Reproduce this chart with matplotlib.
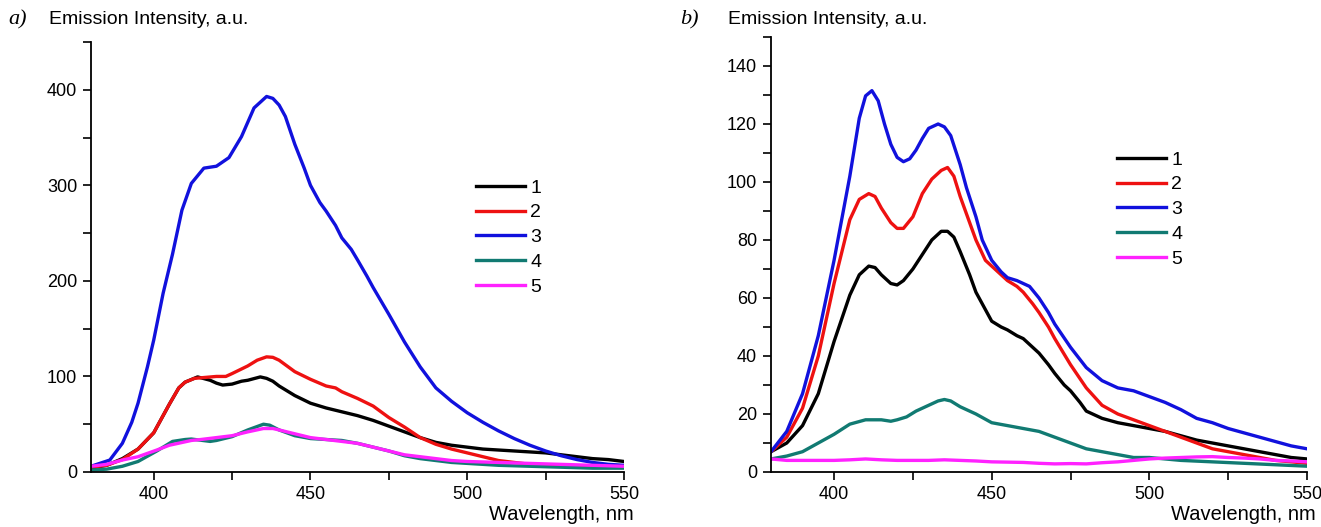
import numpy as np
import matplotlib.pyplot as plt
from matplotlib.ticker import MultipleLocator

plt.rcParams['font.family'] = ['Liberation Sans', 'DejaVu Sans']

# ---- panel a data ----
wl_a1 = [380, 385, 390, 395, 400, 405, 408, 410, 414, 418, 420, 422, 425, 428, 430, 434, 436, 438, 440,
         445, 450, 455, 460, 465, 470, 475, 480, 485, 490, 495, 500, 505, 510, 515, 520, 525, 530, 535,
         540, 545, 550]
int_a1 = [4, 7, 14, 24, 41, 71, 88, 94, 99.5, 96, 93, 91, 92, 95, 96, 99.5, 98, 95, 90,
          80, 72, 67, 63, 59, 54, 48, 42, 36, 31, 28, 26, 24, 23, 22, 21, 20, 18, 16,
          14, 13, 11]

wl_a2 = [380, 385, 390, 395, 400, 405, 408, 410, 413, 420, 423, 425, 430, 433, 436, 438, 440, 445, 450,
         455, 458, 460, 465, 470, 475, 480, 485, 490, 495, 500, 505, 510, 515, 520, 530, 540, 550]
int_a2 = [5, 7, 13, 24, 41, 71, 88, 94, 98, 100, 100, 103, 111, 117, 120.5, 120, 117, 105, 97,
          90, 88, 84, 77, 69, 57, 47, 36, 29, 24, 20, 16, 12, 10, 8, 6, 5, 5]

wl_a3 = [380, 386, 390, 393, 395, 398, 400, 403, 406, 409, 412, 416, 420, 424, 428, 430,
         432, 436, 438, 440, 442, 445, 448, 450, 453, 455, 458, 460, 463, 465, 468, 470, 475, 480, 485,
         490, 495, 500, 505, 510, 515, 520, 525, 530, 535, 540, 545, 550]
int_a3 = [6, 12.5, 30, 52, 72, 110, 138, 187, 228, 274, 302, 318, 320, 329, 351, 366,
          381, 393, 391, 384, 372, 343, 318, 300, 282, 273, 258, 245, 233, 222, 205, 193, 165, 136, 110,
          88, 74, 62, 52, 43, 35, 28, 22, 17, 13, 10, 8, 7]

wl_a4 = [380, 385, 390, 395, 401, 406, 410, 412, 418, 420, 425, 430, 435, 437, 440, 445, 450, 455, 460,
         465, 470, 475, 480, 485, 490, 495, 500, 510, 520, 530, 540, 550]
int_a4 = [2, 3, 6, 11, 22, 32, 34, 34.5, 32, 33, 37, 44, 50, 49, 44, 38, 35, 34, 33,
          30, 26, 22, 17, 14, 12, 10, 9, 7, 6, 5, 4, 4]

wl_a5 = [380, 385, 390, 395, 401, 405, 412, 415, 420, 425, 430, 435, 438, 440, 445, 450, 455, 460, 465,
         470, 475, 480, 485, 490, 495, 500, 510, 520, 530, 540, 550]
int_a5 = [6, 8, 12.5, 16, 23, 28, 33, 34, 36, 38, 42, 45.5, 45.5, 44, 40, 36, 34, 32, 30,
          26, 22, 18, 16, 14, 12, 11, 10, 9, 8, 7, 6]

# ---- panel b data ----
wl_b1 = [380, 385, 390, 395, 400, 405, 408, 411, 413, 415, 418, 420, 422, 425, 428, 431, 434, 436, 438,
         440, 443, 445, 448, 450, 453, 455, 458, 460, 463, 465, 468, 470, 473, 475, 478, 480, 485, 490,
         495, 500, 505, 510, 515, 520, 525, 530, 535, 540, 545, 550]
int_b1 = [7, 10, 16, 27, 45, 61, 68, 71, 70.5, 68, 65, 64.5, 66, 70, 75, 80, 83, 83, 81,
          76, 68, 62, 56, 52, 50, 49, 47, 46, 43, 41, 37, 34, 30, 28, 24, 21, 18.5, 17,
          16, 15, 14, 12.5, 11, 10, 9, 8, 7, 6, 5, 4.5]

wl_b2 = [380, 385, 390, 395, 400, 405, 408, 411, 413, 415, 418, 420, 422, 425, 428, 431, 434, 436, 438,
         440, 443, 445, 448, 450, 453, 455, 458, 460, 463, 465, 468, 470, 475, 480, 485, 490, 495, 500,
         505, 510, 515, 520, 525, 530, 535, 540, 545, 550]
int_b2 = [7, 12, 22, 40, 65, 87, 94, 96, 95, 91, 86, 84, 84, 88, 96, 101, 104, 105, 102,
          95, 86, 80, 73, 71, 68, 66, 64, 62, 58, 55, 50, 46, 37, 29, 23, 20, 18, 16,
          14, 12, 10, 8, 7, 6, 5, 4, 3.5, 3]

wl_b3 = [380, 385, 390, 395, 400, 405, 408, 410, 412, 414, 416, 418, 420, 422, 424, 426, 428, 430, 433,
         435, 437, 440, 442, 445, 447, 450, 453, 455, 458, 460, 462, 465, 468, 470, 475, 480, 485, 490,
         495, 500, 505, 510, 515, 520, 525, 530, 535, 540, 545, 550]
int_b3 = [7, 14, 27, 47, 73, 102, 122, 129.7, 131.5, 128, 120, 113, 108.5, 107, 108, 111, 115, 118.5, 120,
          119, 116, 106, 98, 88, 80, 73, 69, 67, 66, 65, 64, 60, 55, 51, 43, 36, 31.5, 29,
          28, 26, 24, 21.5, 18.5, 17, 15, 13.5, 12, 10.5, 9, 8]

wl_b4 = [380, 385, 390, 395, 400, 405, 410, 415, 418, 420, 423, 426, 430, 433, 435, 437, 440, 445, 450,
         455, 460, 465, 470, 475, 480, 485, 490, 495, 500, 505, 510, 520, 530, 540, 550]
int_b4 = [4.5, 5.5, 7, 10, 13, 16.5, 18, 18, 17.5, 18, 19, 21, 23, 24.5, 25, 24.5, 22.5, 20, 17,
          16, 15, 14, 12, 10, 8, 7, 6, 5, 5, 4.5, 4, 3.5, 3, 2.5, 2]

wl_b5 = [380, 385, 390, 395, 400, 405, 410, 415, 420, 425, 430, 435, 440, 445, 450, 455, 460, 465, 470,
         475, 480, 485, 490, 495, 500, 505, 510, 515, 520, 525, 530, 535, 540, 545, 550]
int_b5 = [4.5, 4, 4, 4, 4, 4.2, 4.5, 4.2, 4, 4, 4, 4.2, 4, 3.8, 3.5, 3.4, 3.3, 3, 2.8,
          2.9, 2.8, 3.2, 3.5, 4, 4.5, 4.8, 5, 5.2, 5.3, 5, 4.8, 4.5, 4, 3.8, 3.5]

labels = ['1', '2', '3', '4', '5']
colors = ['#000000', '#ee1111', '#1111dd', '#117a72', '#ff22ff']

W, H = 1321, 527
fig = plt.figure(figsize=(W / 100, H / 100), dpi=100)


def px_axes(l, t, r, b):
    return fig.add_axes([l / W, 1 - b / H, (r - l) / W, (b - t) / H])


def style(ax, ymax, ymaj, ymin):
    ax.set_xlim(380, 550)
    ax.set_ylim(0, ymax)
    ax.spines['top'].set_visible(False)
    ax.spines['right'].set_visible(False)
    for s in ['left', 'bottom']:
        ax.spines[s].set_linewidth(1.3)
    ax.xaxis.set_major_locator(MultipleLocator(50))
    ax.xaxis.set_minor_locator(MultipleLocator(25))
    ax.yaxis.set_major_locator(MultipleLocator(ymaj))
    ax.yaxis.set_minor_locator(MultipleLocator(ymin))
    ax.tick_params(which='both', direction='out', width=1.2, labelsize=13, pad=4)
    ax.tick_params(which='major', length=6)
    ax.tick_params(which='minor', length=6)


ax_a = px_axes(91, 42, 624, 472)
ax_b = px_axes(771, 37, 1307, 472)

series_a = [(wl_a1, int_a1), (wl_a2, int_a2), (wl_a3, int_a3), (wl_a4, int_a4), (wl_a5, int_a5)]
series_b = [(wl_b1, int_b1), (wl_b2, int_b2), (wl_b3, int_b3), (wl_b4, int_b4), (wl_b5, int_b5)]

for (x, y), c, lab in zip(series_a, colors, labels):
    ax_a.plot(x, y, color=c, lw=2.4, label=lab, solid_joinstyle='round')
for (x, y), c, lab in zip(series_b, colors, labels):
    ax_b.plot(x, y, color=c, lw=2.4, label=lab, solid_joinstyle='round')

style(ax_a, 450, 100, 50)
style(ax_b, 150, 20, 10)

for ax, (lx, ly) in [(ax_a, (476, 179)), (ax_b, (1117, 151))]:
    ax.legend(loc='upper left', bbox_to_anchor=(lx / W, 1 - ly / H), bbox_transform=fig.transFigure,
              frameon=False, fontsize=14, handlelength=2.5, handletextpad=0.3,
              labelspacing=0.37, borderpad=0, borderaxespad=0)

fig.text(8 / W, 1 - 20 / H, 'a)', fontsize=16, style='italic', family='Liberation Serif', va='center')
fig.text(680 / W, 1 - 20 / H, 'b)', fontsize=16, style='italic', family='Liberation Serif', va='center')
fig.text(49 / W, 1 - 20 / H, 'Emission Intensity, a.u.', fontsize=14, va='center')
fig.text(728 / W, 1 - 20 / H, 'Emission Intensity, a.u.', fontsize=14, va='center')
fig.text(634 / W, 1 - 515 / H, 'Wavelength, nm', fontsize=14.5, ha='right', va='center')
fig.text(1316 / W, 1 - 515 / H, 'Wavelength, nm', fontsize=14.5, ha='right', va='center')

fig.savefig('out.png', dpi=100)
